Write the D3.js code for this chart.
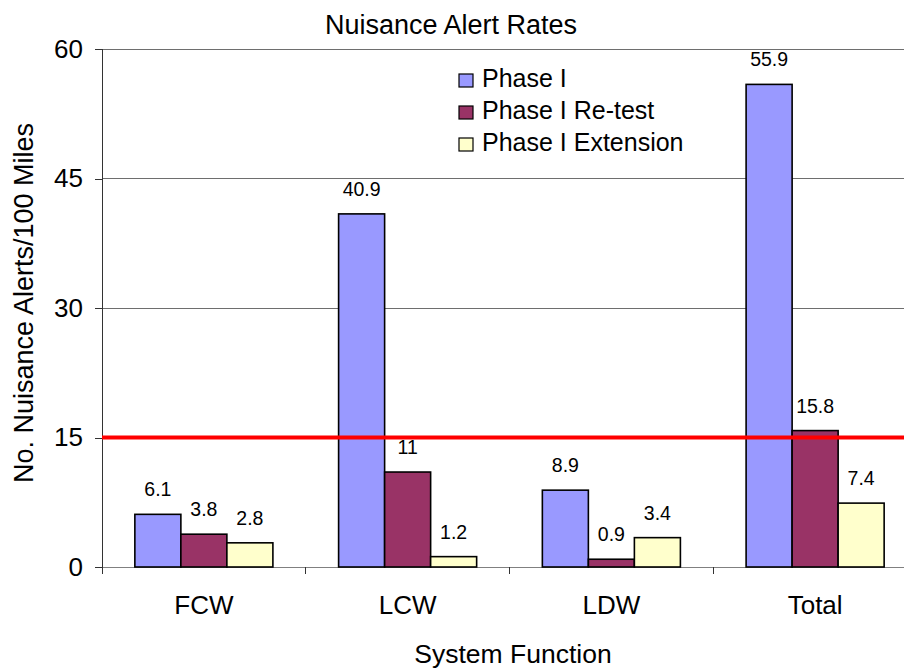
<!DOCTYPE html>
<html>
<head>
<meta charset="utf-8">
<script src="https://cdn.jsdelivr.net/npm/d3@7"></script>
<style>
  html, body { margin: 0; padding: 0; background: #fff; }
  svg { display: block; }
  text { font-family: Arial, "Liberation Sans", sans-serif; fill: #000; }
</style>
</head>
<body>
<svg id="chart" width="904" height="668"></svg>
<script>
const categories = ["FCW", "LCW", "LDW", "Total"];
const seriesNames = ["Phase I", "Phase I Re-test", "Phase I Extension"];
const phaseI = [6.1, 40.9, 8.9, 55.9];
const phaseIRetest = [3.8, 11, 0.9, 15.8];
const phaseIExtension = [2.8, 1.2, 3.4, 7.4];
const seriesColors = ["#9999FF", "#993366", "#FFFFCC"];
const yTicks = [0, 15, 30, 45, 60];
const thresholdValue = 15;
const chartTitle = "Nuisance Alert Rates";
const xTitle = "System Function";
const yTitle = "No. Nuisance Alerts/100 Miles";

const seriesValues = [phaseI, phaseIRetest, phaseIExtension];

const svg = d3.select("#chart");
const pLeft = 102, pRight = 917, pTop = 49, pBottom = 567;

const y = d3.scaleLinear().domain([0, 60]).range([pBottom, pTop]);
const x0 = d3.scaleBand().domain(categories).range([pLeft, pRight]).padding(0);
const x1 = d3.scaleBand().domain(seriesNames).range([0, x0.bandwidth()])
  .paddingInner(0).paddingOuter(0.714);

// gridlines
svg.append("g").selectAll("line").data(yTicks.filter(t => t > 0)).join("line")
  .attr("x1", pLeft).attr("x2", pRight)
  .attr("y1", d => y(d)).attr("y2", d => y(d))
  .attr("stroke", "#6e6e6e").attr("stroke-width", 1).attr("shape-rendering", "crispEdges");

// y axis
const yAxis = svg.append("g").attr("transform", `translate(${pLeft},0)`)
  .call(d3.axisLeft(y).tickValues(yTicks).tickSize(7).tickPadding(12));
yAxis.select(".domain").attr("stroke", "#333").attr("shape-rendering", "crispEdges");
yAxis.selectAll(".tick line").attr("stroke", "#333").attr("shape-rendering", "crispEdges");
yAxis.selectAll("text").style("font-size", "26px").attr("font-family", "Arial, 'Liberation Sans', sans-serif").attr("fill", "#000");

// x axis
const xAxis = svg.append("g").attr("transform", `translate(0,${pBottom})`)
  .call(d3.axisBottom(x0).tickSize(0).tickPadding(29));
xAxis.select(".domain").attr("stroke", "#808080").attr("shape-rendering", "crispEdges");
xAxis.selectAll("text").style("font-size", "26px").attr("font-family", "Arial, 'Liberation Sans', sans-serif").attr("fill", "#000");
// category boundary ticks
const boundaries = categories.map(c => x0(c)).concat([x0(categories[categories.length - 1]) + x0.bandwidth()]);
svg.append("g").selectAll("line").data(boundaries).join("line")
  .attr("x1", d => d).attr("x2", d => d)
  .attr("y1", pBottom).attr("y2", pBottom + 7)
  .attr("stroke", "#333").attr("shape-rendering", "crispEdges");

// bars
const groups = svg.append("g").selectAll("g").data(categories).join("g")
  .attr("transform", c => `translate(${x0(c)},0)`);
groups.selectAll("rect")
  .data((c, ci) => seriesNames.map((s, si) => ({ s, si, v: seriesValues[si][ci] })))
  .join("rect")
  .attr("x", d => x1(d.s))
  .attr("width", x1.bandwidth())
  .attr("y", d => y(d.v))
  .attr("height", d => y(0) - y(d.v))
  .attr("fill", d => seriesColors[d.si])
  .attr("stroke", "#000").attr("stroke-width", 1.6);

groups.selectAll("text.lbl")
  .data((c, ci) => seriesNames.map((s, si) => ({ s, si, v: seriesValues[si][ci] })))
  .join("text").attr("class", "lbl")
  .attr("x", d => x1(d.s) + x1.bandwidth() / 2)
  .attr("y", d => y(d.v) - 18)
  .attr("text-anchor", "middle")
  .style("font-size", "19.5px")
  .text(d => d.v);

// threshold line
svg.append("line")
  .attr("x1", pLeft).attr("x2", pRight)
  .attr("y1", y(thresholdValue)).attr("y2", y(thresholdValue))
  .attr("stroke", "#FF0000").attr("stroke-width", 4);

// title
svg.append("text").attr("x", 451).attr("y", 34).attr("text-anchor", "middle")
  .style("font-size", "27px").text(chartTitle);
// x title
svg.append("text").attr("x", 513).attr("y", 663).attr("text-anchor", "middle")
  .style("font-size", "26.5px").text(xTitle);
// y title
svg.append("text").attr("transform", `translate(33,303) rotate(-90)`).attr("text-anchor", "middle")
  .style("font-size", "27px").text(yTitle);

// legend
const legend = svg.append("g").selectAll("g").data(seriesNames).join("g")
  .attr("transform", (d, i) => `translate(459,${87 + i * 32})`);
legend.append("rect").attr("x", 0).attr("y", -13).attr("width", 14).attr("height", 13)
  .attr("fill", (d, i) => seriesColors[i]).attr("stroke", "#000").attr("stroke-width", 1.2);
legend.append("text").attr("x", 23).attr("y", 0).style("font-size", "25px").text(d => d);
</script>
</body>
</html>
